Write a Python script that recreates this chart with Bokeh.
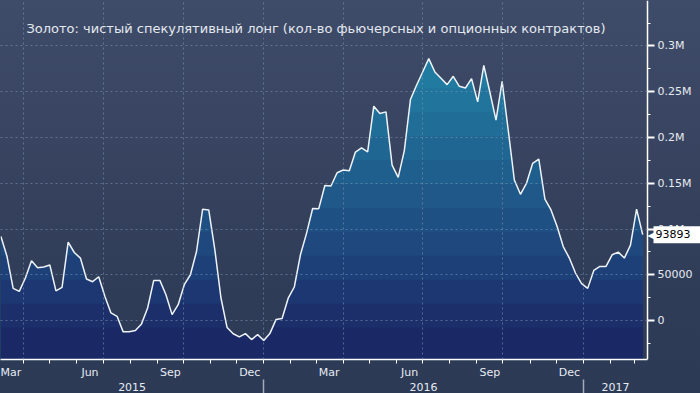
import numpy as np
from bokeh.plotting import figure
from bokeh.models import Range1d, LinearAxis, FixedTicker, Label
from bokeh.embed import file_html
from bokeh.resources import INLINE

# ---------------- data ----------------
TITLE = "Золото: чистый спекулятивный лонг (кол-во фьючерсных и опционных контрактов)"
first_date = "2015-03-06"          # weekly observations
net_long = [
    91800, 70000, 35200, 31900, 46500, 65400, 57700, 58500, 60700, 32400,
    36300, 85700, 74400, 68300, 45400, 42500, 47900, 26500, 8400, 4700,
    -12300, -12300, -10900, -3600, 13800, 43900, 43900, 28300, 6500, 17400,
    39200, 50100, 75500, 121700, 120900, 77300, 24700, -7600, -14400, -17800,
    -14200, -20700, -15300, -21800, -14200, 1100, 2200, 24500, 36700, 71900,
    95300, 122500, 122300, 147600, 147100, 161500, 164500, 163700, 184100, 188800,
    184400, 234200, 226300, 228000, 169900, 156500, 185700, 241500, 257100, 271600,
    286200, 271600, 264700, 257800, 266900, 256000, 254100, 264400, 238900, 278900,
    249500, 219000, 261400, 208100, 153600, 138000, 150300, 171800, 176500, 132600,
    120900, 102700, 80900, 68300, 52000, 40300, 35200, 54800, 59200, 59200,
    71900, 74800, 68300, 82500, 121700, 93893,
]
last_label = "93893"
y_tick_values = [0, 50000, 100000, 150000, 200000, 250000, 300000]
y_tick_labels = ["0", "50000", "0.1M", "0.15M", "0.2M", "0.25M", "0.3M"]
y_minor_values = [-25000, 25000, 75000, 125000, 175000, 225000, 275000, 325000]
month_names = {3: "Mar", 6: "Jun", 9: "Sep", 12: "Dec"}
years = [2015, 2016, 2017]

# ---------------- helpers ----------------
DAY = 86400000

def ms(d):
    return int(np.datetime64(d, "ms").astype(np.int64))

dates = np.datetime64(first_date) + np.arange(len(net_long)) * np.timedelta64(7, "D")
x_ms = dates.astype("datetime64[ms]").astype(np.int64).astype(float)
vals = np.array(net_long, dtype=float)

W, H = 700, 393
PLOT_W = 647                       # where the value axis sits
x_start = ms("2015-03-05T12:00")
x_axis = ms("2017-03-15T12:00")    # date at the value axis
x_end = x_start + (x_axis - x_start) * W / PLOT_W
y_start, y_end = -42500, 349700

FONT = "DejaVu Sans"
TXT = "#e6ebf1"

p = figure(width=W, height=H, output_backend="svg", toolbar_location=None,
           x_range=Range1d(x_start, x_end), y_range=Range1d(y_start, y_end),
           x_axis_location=None, y_axis_location="right", title_location=None,
           min_border_left=0, min_border_top=0, min_border_right=0, min_border_bottom=33)
p.outline_line_color = None
p.background_fill_alpha = 0
p.border_fill_alpha = 0
p.styles = {"background": "linear-gradient(to bottom, #3f4c69 0%, #37435f 40%, #2f3c58 75%, #2c3a56 100%)"}

# ---------------- banded gradient area ----------------
band_colors = ["#1b2866", "#1c2f6b", "#1d3772", "#1e4078", "#1e487e", "#1f5084",
               "#1f5889", "#1f5f8e", "#206693", "#206d97", "#21749c", "#217ba0",
               "#2281a4", "#2286a8", "#238aab"]
band_tops = [-7625 + 26143 * k for k in range(len(band_colors) - 1)] + [y_end]

def clipped_top(xs, vs, hi):
    ox, oy = [], []
    for i in range(len(xs)):
        if i > 0:
            v0, v1 = vs[i - 1], vs[i]
            if (v0 - hi) * (v1 - hi) < 0:
                t = (hi - v0) / (v1 - v0)
                ox.append(xs[i - 1] + t * (xs[i] - xs[i - 1]))
                oy.append(hi)
        ox.append(xs[i])
        oy.append(min(vs[i], hi))
    return ox, oy

for hi, col in reversed(list(zip(band_tops, band_colors))):
    bx, by = clipped_top(x_ms, vals, hi)
    p.varea(x=bx, y1=[y_start] * len(bx), y2=by, fill_color=col)

p.line(x_ms, vals, line_color="#eef3f8", line_width=1.5)

# ---------------- grids ----------------
quarter_starts = [ms(f"{y}-{m:02d}-01") for y in years for m in (1, 4, 7, 10)]
quarter_starts = [t for t in quarter_starts if x_start < t < x_axis]
p.xgrid.ticker = FixedTicker(ticks=quarter_starts)
p.ygrid.ticker = FixedTicker(ticks=y_tick_values)
if "cross_bounds" in p.ygrid.properties():
    p.ygrid.cross_bounds = (x_start, x_axis)
for g in (p.xgrid, p.ygrid):
    g.grid_line_color = "#7f9bb8"
    g.grid_line_alpha = 0.55
    g.grid_line_dash = "2 3"
    g.grid_line_width = 1
    g.level = "annotation"

# ---------------- value axis (right) ----------------
ya = p.yaxis[0]
ya.fixed_location = x_axis
ya.ticker = FixedTicker(ticks=y_tick_values, minor_ticks=y_minor_values)
ya.major_label_overrides = dict(zip(y_tick_values, y_tick_labels))
ya.axis_line_color = "white"
ya.axis_line_width = 1.5
ya.major_tick_line_color = "white"
ya.major_tick_line_width = 2
ya.major_tick_out = 7
ya.major_tick_in = 0
ya.minor_tick_line_color = "white"
ya.minor_tick_out = 3
ya.minor_tick_in = 0
ya.major_label_standoff = 3
ya.major_label_text_font = FONT
ya.major_label_text_font_size = "11px"
ya.major_label_text_color = TXT

# ---------------- bottom axes ----------------
month_starts, month_ticks, month_text = [], [], []
for y in years:
    for m in range(1, 13):
        t = ms(f"{y}-{m:02d}-01")
        if x_start < t < x_axis:
            month_starts.append(t)
        if m in month_names:
            mid = ms(f"{y}-{m:02d}-16")
            if y == 2015 and m == 3:
                mid = x_start + 12 * DAY
            if x_start < mid and mid + 10 * DAY < x_axis:
                month_ticks.append(mid)
                month_text.append(month_names[m])

ax_m = LinearAxis(ticker=FixedTicker(ticks=month_ticks, minor_ticks=month_starts),
                  bounds=(x_start, x_axis))
ax_m.major_label_overrides = dict(zip(month_ticks, month_text))
ax_m.axis_line_color = "white"
ax_m.axis_line_width = 1.5
ax_m.major_tick_out = 4
ax_m.major_tick_in = 0
ax_m.major_tick_line_alpha = 0
ax_m.minor_tick_out = 4
ax_m.minor_tick_in = 0
ax_m.minor_tick_line_color = "white"
ax_m.major_label_standoff = 2
ax_m.major_label_text_font = FONT
ax_m.major_label_text_font_size = "11px"
ax_m.major_label_text_color = TXT
p.add_layout(ax_m, "below")

jan1 = [ms(f"{y}-01-01") for y in years if x_start < ms(f"{y}-01-01") < x_axis]
edges = [x_start] + jan1 + [x_axis]
year_ticks = [int((a + b) / 2) for a, b in zip(edges[:-1], edges[1:])]
ax_y = LinearAxis(ticker=FixedTicker(ticks=year_ticks, minor_ticks=jan1),
                  bounds=(x_start, x_axis))
ax_y.major_label_overrides = {t: str(y) for t, y in zip(year_ticks, years)}
ax_y.axis_line_alpha = 0
ax_y.major_tick_out = 0
ax_y.major_tick_in = 0
ax_y.major_tick_line_alpha = 0
ax_y.minor_tick_in = 2
ax_y.minor_tick_out = 15
ax_y.minor_tick_line_color = "#a3abbb"
ax_y.minor_tick_line_width = 1.5
ax_y.major_label_standoff = -14
ax_y.major_label_text_font = FONT
ax_y.major_label_text_font_size = "11px"
ax_y.major_label_text_color = TXT
p.add_layout(ax_y, "below")

# ---------------- title & last-value callout ----------------
p.add_layout(Label(x=x_start, y=y_end, x_offset=26, y_offset=-28, text=TITLE,
                   text_font=FONT, text_font_size="13px", text_color="#e3e8ef",
                   text_baseline="middle"))
p.add_layout(Label(x=x_axis, y=net_long[-1], x_offset=0, text="◀",
                   text_font=FONT, text_font_size="12px", text_color="white",
                   text_baseline="middle"))
p.add_layout(Label(x=x_axis, y=net_long[-1], x_offset=6, text=last_label + "\u00a0\u00a0\u00a0",
                   text_font=FONT, text_font_size="11px", text_color="black",
                   text_baseline="middle", background_fill_color="white",
                   padding=2))

open("out.html", "w").write(file_html(p, INLINE))
